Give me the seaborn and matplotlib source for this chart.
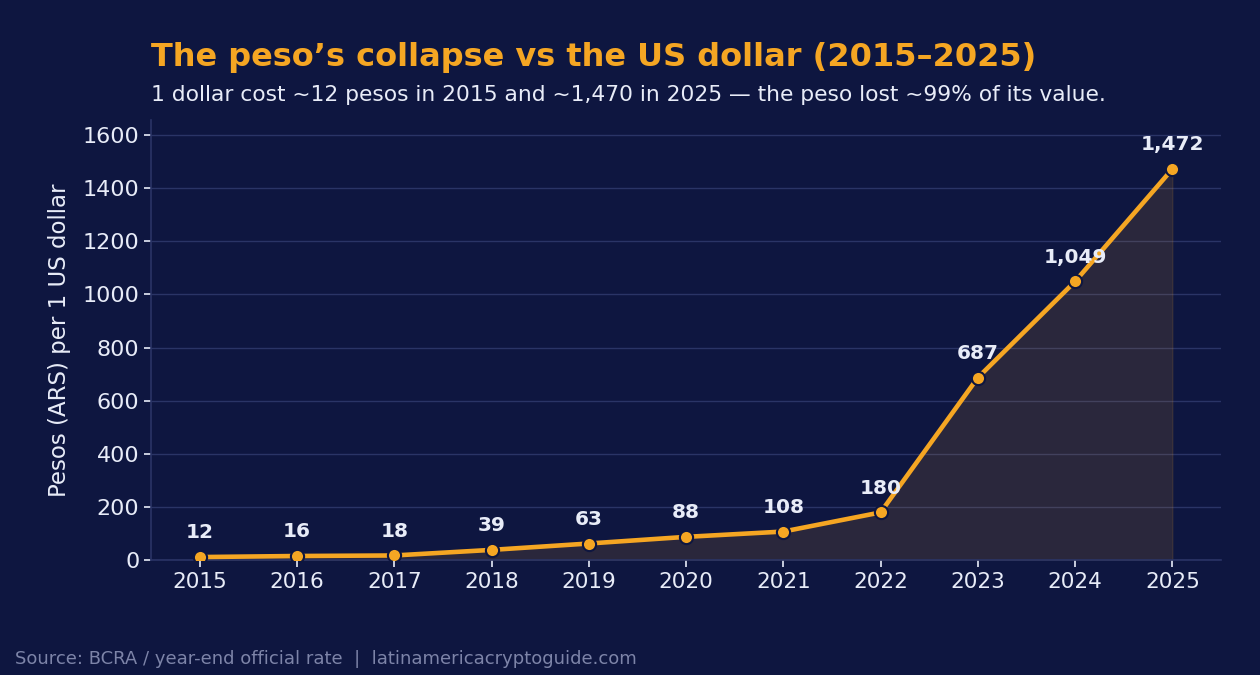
import numpy as np
import pandas as pd
import matplotlib
matplotlib.use("Agg")
import matplotlib.pyplot as plt
import seaborn as sns

years = [2015, 2016, 2017, 2018, 2019, 2020, 2021, 2022, 2023, 2024, 2025]
pesos = [12, 16, 18, 39, 63, 88, 108, 180, 687, 1049, 1472]
labels = ["12", "16", "18", "39", "63", "88", "108", "180", "687", "1,049", "1,472"]

BG = "#0e1640"
ORANGE = "#f5a623"
GRID = "#2a3466"
TEXT = "#e8ecf8"

sns.set_theme(style="dark")
plt.rcParams["font.family"] = ["DejaVu Sans"]

df = pd.DataFrame({"year": years, "pesos": pesos})

fig, ax = plt.subplots(figsize=(12.6, 6.75), dpi=100)
fig.patch.set_facecolor(BG)
ax.set_facecolor(BG)

ax.fill_between(years, pesos, 0, color=ORANGE, alpha=0.12, linewidth=1)
sns.lineplot(data=df, x="year", y="pesos", ax=ax, color=ORANGE, linewidth=3.3,
             marker="o", markersize=9.5, markeredgecolor=BG, markeredgewidth=1.5,
             zorder=3)

# value labels above each point
for x, y, lab in zip(years, pesos, labels):
    ax.annotate(lab, (x, y), xytext=(0, 10.5), textcoords="offset points",
                ha="center", va="bottom", color=TEXT, fontsize=14.5,
                fontweight="bold")

ax.set_xlim(2014.5, 2025.5)
ax.set_ylim(0, 1656)
ax.set_xticks(years)
ax.set_yticks(range(0, 1601, 200))
ax.tick_params(axis="both", colors=TEXT, labelsize=16, length=5, width=1.2,
               bottom=True, left=True)
ax.tick_params(axis="x", labelsize=15.5)
for t in ax.get_xticklabels() + ax.get_yticklabels():
    t.set_color(TEXT)
ax.yaxis.grid(True, color=GRID, linewidth=1)
ax.xaxis.grid(False)
ax.set_xlabel("")
ax.set_ylabel("Pesos (ARS) per 1 US dollar", color=TEXT, fontsize=16.5, labelpad=8)
for side in ["top", "right"]:
    ax.spines[side].set_visible(False)
for side in ["left", "bottom"]:
    ax.spines[side].set_visible(True)
    ax.spines[side].set_color(GRID)
    ax.spines[side].set_linewidth(1.2)

fig.subplots_adjust(left=0.12, right=0.969, top=0.822, bottom=0.17)

fig.text(0.12, 0.915, "The peso\u2019s collapse vs the US dollar (2015\u20132025)",
         color=ORANGE, fontsize=23, fontweight="bold", ha="left", va="center")
fig.text(0.12, 0.859,
         "1 dollar cost ~12 pesos in 2015 and ~1,470 in 2025 \u2014 the peso lost ~99% of its value.",
         color=TEXT, fontsize=15.7, ha="left", va="center")
fig.text(0.012, 0.023, "Source: BCRA / year-end official rate  |  latinamericacryptoguide.com",
         color="#7d84a8", fontsize=13, ha="left", va="center")

fig.savefig("out.png", dpi=100, facecolor=BG)
